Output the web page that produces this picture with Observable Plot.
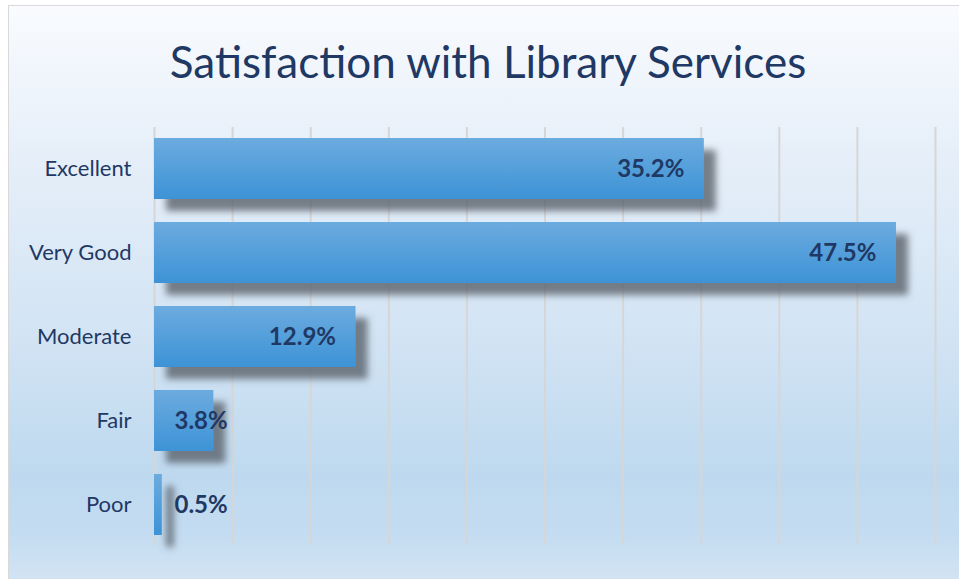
<!DOCTYPE html>
<html>
<head>
<meta charset="utf-8">
<script src="https://cdn.jsdelivr.net/npm/d3@7"></script>
<script src="https://cdn.jsdelivr.net/npm/@observablehq/plot@0.6"></script>
<style>
  html, body { margin: 0; padding: 0; width: 959px; height: 579px; overflow: hidden; background: #ffffff; }
  #frame {
    position: absolute; left: 8px; top: 5px; width: 970px; height: 590px;
    border: 1px solid #d9d9d9; box-sizing: border-box;
    background: linear-gradient(to bottom, #f9fbfe 0%, #e6eff9 25%, #d3e4f4 55%, #bed9ef 80%, #c4dcf1 90%, #d6e6f4 100%);
  }
  #title {
    position: absolute; left: 0; width: 976px; top: 39px; text-align: center;
    font-family: Lato, "Open Sans", sans-serif; font-size: 44px; color: #1f3864; line-height: 1;
  }
  #chart { position: absolute; left: 0; top: 0; }
</style>
</head>
<body>
<div id="frame"></div>
<div id="title">Satisfaction with Library Services</div>
<div id="chart"></div>
<script>
const categories = ["Excellent", "Very Good", "Moderate", "Fair", "Poor"];
const values = [35.2, 47.5, 12.9, 3.8, 0.5];
const gridTicks = [0, 5, 10, 15, 20, 25, 30, 35, 40, 45, 50];

const data = categories.map((c, i) => ({category: c, value: values[i], label: values[i].toFixed(1) + "%"}));

const navy = "#1f3864";
const plot = Plot.plot({
  width: 959,
  height: 579,
  marginLeft: 154,
  marginRight: 24,
  marginTop: 127,
  marginBottom: 34,
  style: {background: "transparent", fontFamily: "Lato, 'Open Sans', sans-serif", overflow: "visible"},
  x: {domain: [0, 50], axis: null},
  y: {domain: categories, paddingInner: 0.274, paddingOuter: 0.123, label: null, axis: null},
  marks: [
    Plot.ruleX(gridTicks, {stroke: "#d6d6d6", strokeWidth: 2}),
    Plot.barX(data, {x: "value", y: "category", fill: "url(#barGrad)"}),
    Plot.text(data.filter(d => d.value >= 10), {
      x: "value", y: "category", text: "label", textAnchor: "end", dx: -20,
      fill: navy, fontWeight: "bold", fontSize: 24
    }),
    Plot.text(data.filter(d => d.value < 10), {
      x: 0, y: "category", text: "label", textAnchor: "start", dx: 20,
      fill: navy, fontWeight: "bold", fontSize: 24
    }),
    Plot.axisY({tickSize: 0, tickPadding: 23, fontSize: 22, color: navy, label: null})
  ]
});

const ns = "http://www.w3.org/2000/svg";
const defs = document.createElementNS(ns, "defs");
defs.innerHTML = `
  <linearGradient id="barGrad" x1="0" y1="0" x2="0" y2="1">
    <stop offset="0%" stop-color="#6cabdf"/>
    <stop offset="100%" stop-color="#3d93d6"/>
  </linearGradient>
  <filter id="shadow" x="-20%" y="-30%" width="160%" height="180%">
    <feDropShadow dx="12" dy="12" stdDeviation="3.5" flood-color="#5a626b" flood-opacity="0.8"/>
  </filter>`;
plot.insertBefore(defs, plot.firstChild);
const barG = plot.querySelector('g[aria-label="bar"]');
if (barG) barG.setAttribute("filter", "url(#shadow)");
document.getElementById("chart").appendChild(plot);
</script>
</body>
</html>
